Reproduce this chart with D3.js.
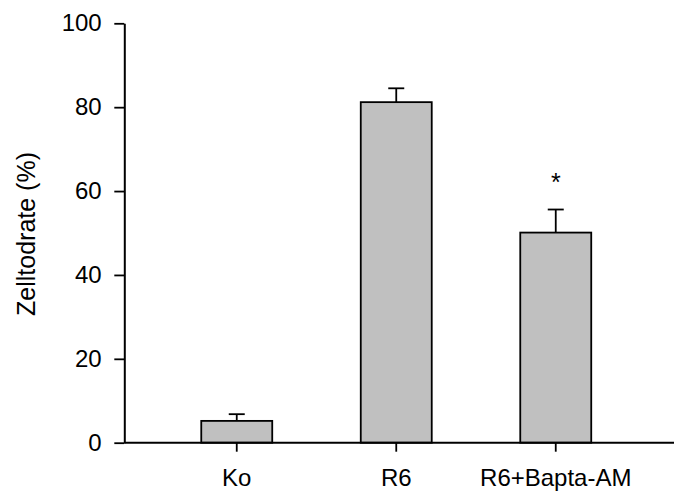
<!DOCTYPE html>
<html>
<head>
<meta charset="utf-8">
<script src="https://cdn.jsdelivr.net/npm/d3@7"></script>
<style>
  body { margin: 0; background: #fff; }
  svg { display: block; font-family: "Liberation Sans", Arial, sans-serif; }
</style>
</head>
<body>
<figure id="bars" style="margin:0"></figure>
<script>
const categories = ['Ko', 'R6', 'R6+Bapta-AM'];
const values = [5.2, 81.2, 50.1];
const errors = [1.6, 3.3, 5.5];
const marks = ['', '', '*'];
const yTicks = [0, 20, 40, 60, 80, 100];

const width = 676;
const height = 493;
const plotLeft = 124.3;
const plotBottom = 442.7;
const plotTop = 23.3;

const svg = d3.select('figure#bars')
  .append('svg')
  .attr('width', width)
  .attr('height', height);

const x = d3.scaleBand()
  .domain(categories)
  .range([157, 635.5])
  .paddingInner(0.555)
  .paddingOuter(0.2775);

const y = d3.scaleLinear()
  .domain([0, 100])
  .range([plotBottom, plotTop]);

// bars
svg.append('g')
  .selectAll('rect')
  .data(values)
  .enter()
  .append('rect')
  .attr('x', (d, i) => x(categories[i]))
  .attr('y', d => y(d))
  .attr('width', x.bandwidth())
  .attr('height', d => y(0) - y(d))
  .style('fill', '#c0c0c0')
  .style('stroke', '#000')
  .style('stroke-width', 1.8);

// error bars (upper only)
const err = svg.append('g')
  .style('stroke', '#000')
  .style('stroke-width', 1.8);
err.selectAll('line.v')
  .data(values)
  .enter()
  .append('line')
  .attr('class', 'v')
  .attr('x1', (d, i) => x(categories[i]) + x.bandwidth() / 2)
  .attr('x2', (d, i) => x(categories[i]) + x.bandwidth() / 2)
  .attr('y1', d => y(d))
  .attr('y2', (d, i) => y(d + errors[i]));
err.selectAll('line.cap')
  .data(values)
  .enter()
  .append('line')
  .attr('class', 'cap')
  .attr('x1', (d, i) => x(categories[i]) + x.bandwidth() / 2 - 8)
  .attr('x2', (d, i) => x(categories[i]) + x.bandwidth() / 2 + 8)
  .attr('y1', (d, i) => y(d + errors[i]))
  .attr('y2', (d, i) => y(d + errors[i]));

// significance marks
svg.append('g')
  .selectAll('text')
  .data(values)
  .enter()
  .append('text')
  .text((d, i) => marks[i])
  .attr('x', (d, i) => x(categories[i]) + x.bandwidth() / 2)
  .attr('y', (d, i) => y(d + errors[i]) - 19)
  .attr('text-anchor', 'middle')
  .style('font-size', '25px');

// x axis
const xAxis = svg.append('g')
  .attr('transform', 'translate(0,' + plotBottom + ')')
  .call(d3.axisBottom(x).tickSize(9).tickPadding(17.5));
xAxis.select('.domain').remove();
xAxis.selectAll('line').style('stroke-width', 1.8);
xAxis.selectAll('text').style('font-size', '24px').style('fill', '#000');
xAxis.append('line')
  .attr('x1', plotLeft)
  .attr('x2', 674)
  .attr('y1', 0)
  .attr('y2', 0)
  .style('stroke', '#000')
  .style('stroke-width', 2);

// y axis
const yAxis = svg.append('g')
  .attr('transform', 'translate(' + plotLeft + ',0)')
  .call(d3.axisLeft(y).tickValues(yTicks).tickSize(10).tickSizeOuter(0).tickPadding(12.6));
yAxis.select('.domain').style('stroke-width', 2);
yAxis.selectAll('line').style('stroke-width', 1.8);
yAxis.selectAll('text').style('font-size', '24px').style('fill', '#000');

svg.append('text')
  .text('Zelltodrate (%)')
  .attr('transform', 'translate(35,234) rotate(-90)')
  .attr('text-anchor', 'middle')
  .style('font-size', '25px');
</script>
</body>
</html>
